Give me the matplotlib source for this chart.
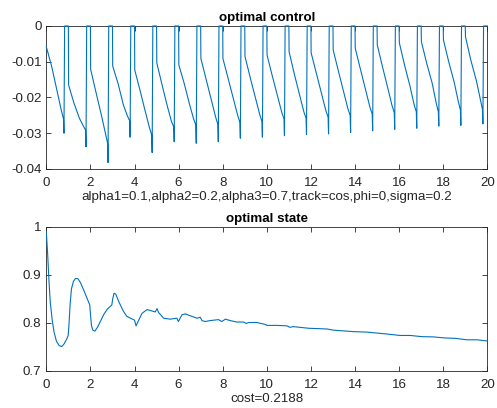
import numpy as np
import matplotlib
matplotlib.use("Agg")
import matplotlib.pyplot as plt

plt.rcParams['font.family'] = ['Liberation Sans', 'DejaVu Sans']
plt.rcParams['axes.unicode_minus'] = False

# ---------------- data: optimal control (per cycle readings) ----------------
cycles = list(range(20))
phase_times = [0.01, 0.25, 0.5, 0.68, 0.78, 0.80]   # sample times inside each cycle
zero_times = [0.83, 1.0]                              # control at 0 on this interval
ctrl_start = [-0.0058, -0.0165, -0.0121, -0.0112, -0.0123, -0.0103, -0.0109, -0.0091, -0.0091, -0.0085,
              -0.0081, -0.0072, -0.0075, -0.0067, -0.0062, -0.0053, -0.0047, -0.0044, -0.0039, -0.0030]
ctrl_q1 = [-0.0115, -0.0215, -0.0185, -0.0160, -0.0180, -0.0165, -0.0160, -0.0150, -0.0148, -0.0145,
           -0.0140, -0.0135, -0.0133, -0.0127, -0.0122, -0.0115, -0.0110, -0.0104, -0.0100, -0.0095]
ctrl_mid = [-0.0185, -0.0258, -0.0250, -0.0222, -0.0242, -0.0227, -0.0220, -0.0212, -0.0208, -0.0205,
            -0.0200, -0.0196, -0.0193, -0.0188, -0.0183, -0.0177, -0.0170, -0.0160, -0.0158, -0.0152]
ctrl_q3 = [-0.0236, -0.0280, -0.0300, -0.0252, -0.0285, -0.0268, -0.0260, -0.0255, -0.0250, -0.0248,
           -0.0242, -0.0240, -0.0237, -0.0232, -0.0228, -0.0223, -0.0220, -0.0215, -0.0210, -0.0205]
ctrl_end = [-0.0260, -0.0291, -0.0328, -0.0265, -0.0305, -0.0282, -0.0277, -0.0275, -0.0270, -0.0267,
            -0.0260, -0.0258, -0.0255, -0.0250, -0.0246, -0.0242, -0.0240, -0.0240, -0.0235, -0.0233]
ctrl_spike = [-0.0300, -0.0338, -0.0382, -0.0311, -0.0354, -0.0324, -0.0328, -0.0324, -0.0314, -0.0311,
              -0.0307, -0.0304, -0.0302, -0.0298, -0.0293, -0.0289, -0.0286, -0.0280, -0.0278, -0.0274]

# ---------------- data: optimal state ----------------
state_t = [0.0, 0.06, 0.12, 0.18, 0.27, 0.35, 0.46, 0.58, 0.70, 0.80, 0.93, 0.99, 1.03, 1.08, 1.14,
           1.23, 1.33, 1.44, 1.56, 1.71, 1.86, 1.97, 2.0, 2.05, 2.11, 2.2, 2.32, 2.47, 2.62, 2.77,
           2.97, 3.01, 3.07, 3.15, 3.3, 3.5, 3.65, 3.81, 4.0,
           4.07, 4.16, 4.34, 4.57, 4.79, 4.94, 5.02, 5.09, 5.32, 5.62, 5.92, 5.99, 6.15, 6.3, 6.53,
           6.83, 6.98, 7.06, 7.21, 7.43, 7.81, 7.96, 8.12, 8.34, 8.64, 8.94, 9.07, 9.18, 9.55, 9.93,
           10.01, 10.46, 10.92, 11.04, 11.2, 11.9, 12.73, 13.03, 13.94, 14.54, 15.0, 15.45, 16.05,
           16.51, 17.04, 17.56, 18.02, 18.55, 19.08, 19.53, 20.0]
state_v = [0.990, 0.944, 0.888, 0.843, 0.805, 0.781, 0.762, 0.753, 0.751, 0.756, 0.767, 0.774, 0.798,
           0.840, 0.871, 0.887, 0.893, 0.892, 0.883, 0.867, 0.850, 0.8375, 0.819, 0.794, 0.785, 0.783,
           0.791, 0.805, 0.819, 0.829, 0.8375, 0.850, 0.862, 0.860, 0.843, 0.824, 0.814, 0.810, 0.806,
           0.794, 0.803, 0.820, 0.828, 0.825, 0.823, 0.830, 0.822, 0.810,
           0.808, 0.810, 0.803, 0.817, 0.819, 0.815, 0.810, 0.812, 0.805, 0.803, 0.805, 0.807, 0.803,
           0.808, 0.805, 0.802, 0.802, 0.799, 0.801, 0.801, 0.797, 0.795, 0.795, 0.794, 0.791, 0.7924,
           0.789, 0.7875, 0.785, 0.782, 0.781, 0.779, 0.777, 0.774, 0.774, 0.7715, 0.771, 0.769, 0.768,
           0.765, 0.765, 0.7625]

title_top = "optimal control"
xlabel_top = "alpha1=0.1,alpha2=0.2,alpha3=0.7,track=cos,phi=0,sigma=0.2"
title_bot = "optimal state"
xlabel_bot = "cost=0.2188"

# build control polyline from the per-cycle readings
ct, cv = [], []
for i, k in enumerate(cycles):
    vals = [ctrl_start[i], ctrl_q1[i], ctrl_mid[i], ctrl_q3[i], ctrl_end[i], ctrl_spike[i]]
    for j, (p, v) in enumerate(zip(phase_times, vals)):
        ct.append(k if (i == 0 and j == 0) else k + p)
        cv.append(v)
    for p in zero_times:
        ct.append(k + p)
        cv.append(0.0)

line_color = '#0072BD'
axis_color = '#262626'
fs = 9.6

fig = plt.figure(figsize=(4.97, 4.08), dpi=100)
ax1 = fig.add_axes([0.0932, 0.5858, 0.8873, 0.3505])
ax2 = fig.add_axes([0.0932, 0.0907, 0.8873, 0.3530])

ax1.plot(ct, cv, color=line_color, lw=0.8, zorder=3, clip_on=False)
ax2.plot(state_t, state_v, color=line_color, lw=0.8, zorder=3)

ax1.set_xlim(0, 20)
ax1.set_ylim(-0.04, 0)
ax1.set_yticks([-0.04, -0.03, -0.02, -0.01, 0])
ax1.set_yticklabels(['-0.04', '-0.03', '-0.02', '-0.01', '0'])
ax2.set_xlim(0, 20)
ax2.set_ylim(0.7, 1)
ax2.set_yticks([0.7, 0.8, 0.9, 1.0])
ax2.set_yticklabels(['0.7', '0.8', '0.9', '1'])

for ax, t, xl in [(ax1, title_top, xlabel_top), (ax2, title_bot, xlabel_bot)]:
    ax.set_xticks(range(0, 21, 2))
    ax.tick_params(direction='in', length=3.5, width=0.6, top=True, right=True,
                   colors=axis_color, labelsize=fs, pad=3.5)
    ax.tick_params(axis='x', pad=5.5)
    for s in ax.spines.values():
        s.set_color(axis_color)
        s.set_linewidth(0.6)
    ax.set_title(t, fontsize=fs, fontweight='bold', pad=3.5, color='black')
    ax.set_xlabel(xl, fontsize=fs, color=axis_color, labelpad=2.0)

fig.savefig('out.png', dpi=100)
